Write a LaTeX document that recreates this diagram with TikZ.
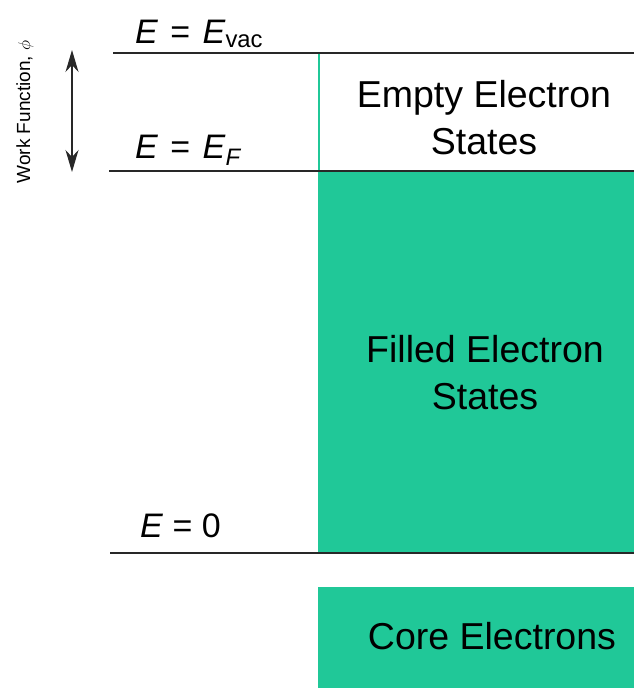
\documentclass[tikz,border=0pt]{standalone}
\usepackage{fontspec}
\setmainfont{Liberation Sans}
\usetikzlibrary{arrows.meta}
\definecolor{fillgreen}{RGB}{32,200,152}
\definecolor{lvl}{RGB}{40,40,40}
\newcommand{\eqsp}{\hspace{0.36em}=\hspace{0.36em}}
\begin{document}
\begin{tikzpicture}[x=1pt,y=-1pt,
  level/.style={draw=lvl,line width=1.4pt},
  big/.style={font=\fontsize{34}{40}\selectfont,inner sep=0pt},
  state/.style={font=\fontsize{37.5}{47}\selectfont,align=center,inner sep=0pt},
  wfarrow/.style={draw=lvl,line width=1.2pt,{Stealth[length=22pt,width=13pt,inset=7pt]}-{Stealth[length=22pt,width=13pt,inset=7pt]}}]
\useasboundingbox (0,0) rectangle (634,688);
% green regions
\fill[fillgreen] (318,172) rectangle (634,553);
\fill[fillgreen] (318,587) rectangle (634,688);
\draw[fillgreen,line width=1.6pt] (319,53) -- (319,172);
% level lines
\coordinate (vacL) at (113,53); \coordinate (vacR) at (634,53);
\coordinate (fL) at (109,171); \coordinate (fR) at (634,171);
\coordinate (zL) at (110,553); \coordinate (zR) at (634,553);
\draw[level] (vacL) -- (vacR);
\draw[level] (fL) -- (fR);
\draw[level] (zL) -- (zR);
% labels
\node[big,anchor=base west] (evac) at (135,43) {\textit{E}\eqsp\textit{E}\textsubscript{vac}};
\node[big,anchor=base west] (ef) at (135,158) {\textit{E}\eqsp\textit{E}\textsubscript{\textit{F}}};
\node[big,anchor=base west] (e0) at (140,537) {\textit{E} = 0};
\node[state] (empty) at (484,118) {Empty Electron\\States};
\node[state] (filled) at (485,373) {Filled Electron\\States};
\node[state] (core) at (492,636) {Core Electrons};
% work function
\coordinate (wtop) at (72,50); \coordinate (wbot) at (72,172);
\draw[wfarrow] (wtop) -- (wbot);
\node[rotate=90,font=\fontsize{19}{22}\selectfont,inner sep=0pt] (wf) at (25,112) {Work Function, $\phi$};
\end{tikzpicture}
\end{document}
